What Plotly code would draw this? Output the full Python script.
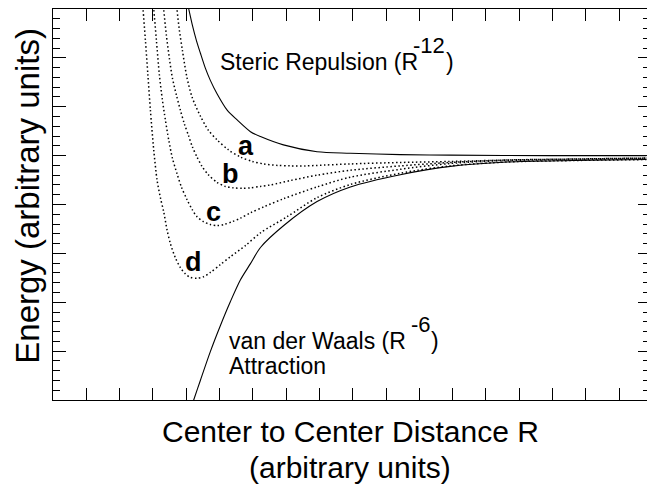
import plotly.graph_objects as go

# Centre-to-centre distance R and interaction energy, both in arbitrary units.

# Steric repulsion (R^-12), solid
r_rep = [1.192, 1.216, 1.237, 1.261, 1.285, 1.315, 1.345, 1.386, 1.446, 1.506,
         1.586, 1.646, 1.784, 1.986, 2.186, 2.486, 2.787, 3.387, 3.964]
e_rep = [3.38, 2.99, 2.67, 2.36, 2.10, 1.79, 1.54, 1.26, 0.93, 0.73,
         0.49, 0.39, 0.22, 0.08, 0.05, 0.02, 0.01, 0.00, 0.00]

# van der Waals attraction (R^-6), solid
r_att = [1.237, 1.246, 1.285, 1.345, 1.405, 1.465, 1.526, 1.586, 1.646, 1.786,
         1.986, 2.186, 2.486, 2.787, 3.127, 3.526, 3.964]
e_att = [-5.09, -4.99, -4.60, -4.01, -3.48, -2.99, -2.54, -2.21, -1.88, -1.43,
         -0.94, -0.64, -0.39, -0.22, -0.13, -0.10, -0.08]

# Combined potentials a-d, dotted
r_a = [1.138, 1.145, 1.159, 1.177, 1.205, 1.237, 1.285, 1.333, 1.386, 1.453,
       1.526, 1.598, 1.665, 1.748, 1.826, 1.916, 1.986, 2.186, 2.486, 2.787,
       3.127, 3.526, 3.964]
e_a = [3.38, 2.99, 2.57, 2.16, 1.59, 1.18, 0.81, 0.52, 0.32, 0.12,
       -0.03, -0.12, -0.17, -0.20, -0.21, -0.21, -0.20, -0.17, -0.14, -0.12,
       -0.09, -0.07, -0.05]

r_b = [1.054, 1.065, 1.081, 1.099, 1.117, 1.141, 1.165, 1.189, 1.215, 1.237,
       1.265, 1.295, 1.333, 1.386, 1.435, 1.485, 1.538, 1.586, 1.646, 1.706,
       1.826, 1.986, 2.186, 2.486, 2.787, 3.127, 3.526, 3.964]
e_b = [3.38, 2.99, 2.46, 1.99, 1.59, 1.24, 0.93, 0.65, 0.40, 0.18,
       -0.03, -0.22, -0.39, -0.55, -0.63, -0.66, -0.67, -0.66, -0.63, -0.60,
       -0.51, -0.40, -0.30, -0.21, -0.14, -0.09, -0.07, -0.05]

r_c = [0.992, 1.005, 1.021, 1.039, 1.057, 1.075, 1.095, 1.117, 1.145, 1.171,
       1.205, 1.237, 1.265, 1.303, 1.345, 1.386, 1.425, 1.477, 1.526, 1.586,
       1.665, 1.786, 1.986, 2.186, 2.486, 2.787, 3.127, 3.526, 3.964]
e_c = [3.38, 2.99, 2.36, 1.65, 1.14, 0.73, 0.32, -0.05, -0.37, -0.64,
       -0.90, -1.11, -1.25, -1.35, -1.41, -1.43, -1.41, -1.35, -1.28, -1.17,
       -1.05, -0.88, -0.64, -0.44, -0.28, -0.16, -0.10, -0.08, -0.06]

r_d = [0.933, 0.941, 0.955, 0.970, 0.985, 1.005, 1.025, 1.045, 1.065, 1.085,
       1.105, 1.135, 1.165, 1.195, 1.225, 1.265, 1.303, 1.345, 1.405, 1.465,
       1.556, 1.646, 1.806, 1.986, 2.186, 2.486, 2.787, 3.127, 3.526, 3.964]
e_d = [3.38, 2.99, 2.36, 1.65, 0.93, 0.12, -0.50, -0.86, -1.15, -1.52,
       -1.80, -2.09, -2.29, -2.42, -2.49, -2.51, -2.48, -2.39, -2.23, -2.07,
       -1.84, -1.58, -1.25, -0.86, -0.59, -0.36, -0.21, -0.13, -0.10, -0.08]

X_RANGE = [0.4, 3.9676]
Y_RANGE = [-5, 3]
FONT = "Liberation Sans, Arial, sans-serif"

fig = go.Figure()

solid = dict(color="black", width=1.1, shape="spline", smoothing=0.8)
dotted = dict(color="black", width=1.5, dash="1.5px,2.5px", shape="spline", smoothing=0.8)

for xs, ys, style in [(r_rep, e_rep, solid), (r_att, e_att, solid),
                      (r_a, e_a, dotted), (r_b, e_b, dotted),
                      (r_c, e_c, dotted), (r_d, e_d, dotted)]:
    fig.add_trace(go.Scatter(x=xs, y=ys, mode="lines", line=style,
                             hoverinfo="skip", showlegend=False))

# empty trace so the right-hand tick axis is drawn
fig.add_trace(go.Scatter(x=[], y=[], yaxis="y2", showlegend=False, hoverinfo="skip"))


def note(x, y, text, size=23, bold=False, anchor="left"):
    fig.add_annotation(x=x, y=y, xref="x", yref="y", text=text, showarrow=False,
                       xanchor=anchor, yanchor="middle",
                       font=dict(family=FONT, size=size, color="black",
                                 weight="bold" if bold else "normal"))


note(1.393, 1.912, "Steric Repulsion (R")
note(2.553, 2.251, "-12", size=22)
note(2.751, 1.912, ")")
note(1.443, -3.802, "van der Waals (R")
note(2.54, -3.463, "-6", size=22)
note(2.66, -3.802, ")")
note(1.443, -4.312, "Attraction")

note(1.562, 0.188, "a", size=27, bold=True, anchor="center")
note(1.468, -0.384, "b", size=27, bold=True, anchor="center")
note(1.365, -1.163, "c", size=27, bold=True, anchor="center")
note(1.245, -2.184, "d", size=27, bold=True, anchor="center")

# axis titles
fig.add_annotation(x=-0.0424, y=0.522, xref="paper", yref="paper",
                   text="Energy (arbitrary units)", textangle=-90, showarrow=False,
                   xanchor="center", yanchor="middle",
                   font=dict(family=FONT, size=33, color="black"))
fig.add_annotation(x=0.5, y=-0.0818, xref="paper", yref="paper",
                   text="Center to Center Distance R", showarrow=False,
                   xanchor="center", yanchor="middle", borderpad=0,
                   font=dict(family=FONT, size=30, color="black"))
fig.add_annotation(x=0.5, y=-0.1739, xref="paper", yref="paper",
                   text="(arbitrary units)", showarrow=False,
                   xanchor="center", yanchor="middle", borderpad=0,
                   font=dict(family=FONT, size=30, color="black"))

fig.update_layout(
    width=647, height=498,
    margin=dict(l=53, r=0, t=9, b=98, pad=0),
    paper_bgcolor="white", plot_bgcolor="white",
    font=dict(family=FONT, color="black"),
    xaxis=dict(range=X_RANGE, showgrid=False, zeroline=False,
               showline=True, linecolor="black", linewidth=1, mirror="allticks",
               ticks="inside", ticklen=12, tickwidth=1, tickcolor="black",
               tick0=0, dtick=1, showticklabels=False,
               minor=dict(ticks="inside", ticklen=6, tickwidth=1, tickcolor="black",
                          tick0=0, dtick=0.2, showgrid=False)),
    yaxis=dict(range=Y_RANGE, showgrid=False, zeroline=False,
               showline=True, linecolor="black", linewidth=1, mirror=False,
               ticks="inside", ticklen=13, tickwidth=1, tickcolor="black",
               tick0=0, dtick=1, showticklabels=False,
               minor=dict(ticks="inside", ticklen=7, tickwidth=1, tickcolor="black",
                          tick0=0, dtick=0.2, showgrid=False)),
    yaxis2=dict(range=Y_RANGE, overlaying="y", side="right", showgrid=False,
                zeroline=False, showline=False,
                ticks="inside", ticklen=9, tickwidth=1, tickcolor="black",
                tick0=0, dtick=1, showticklabels=False,
                minor=dict(ticks="inside", ticklen=4, tickwidth=1, tickcolor="black",
                           tick0=0, dtick=0.2, showgrid=False)),
)

fig.write_html("out.html")
